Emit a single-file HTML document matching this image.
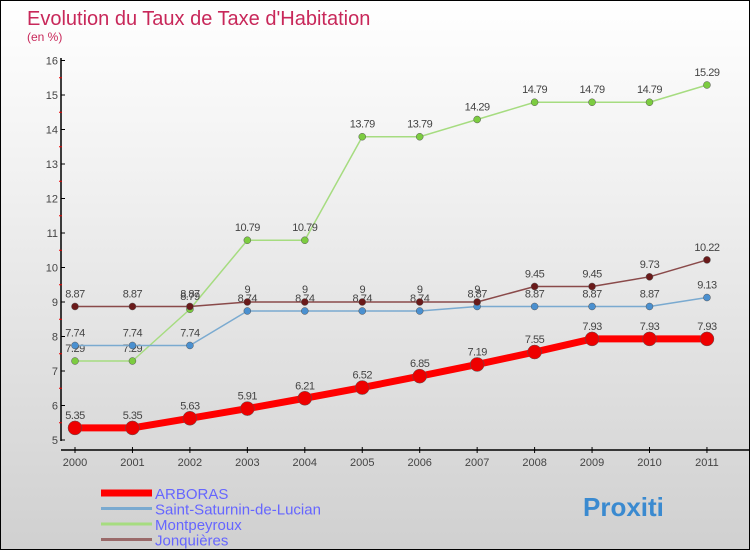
<!DOCTYPE html>
<html><head><meta charset="utf-8"><style>
body{margin:0}
#c{width:750px;height:550px;position:relative;box-sizing:border-box;border:1px solid #000;background:linear-gradient(#fff,#f2f2f2 30%,#d0d0d0);font-family:"Liberation Sans",sans-serif;overflow:hidden}
</style></head><body>
<div id="c">
<svg id="s" width="748" height="548" style="position:absolute;left:0;top:0">
<text x="26" y="24" font-size="20" fill="#c8285a">Evolution du Taux de Taxe d'Habitation</text>
<text x="26" y="40" font-size="12" fill="#c8285a">(en %)</text>
</svg>
</div>
<script>
const years=[2000,2001,2002,2003,2004,2005,2006,2007,2008,2009,2010,2011];
const arboras=[5.35,5.35,5.63,5.91,6.21,6.52,6.85,7.19,7.55,7.93,7.93,7.93];
const saint=[7.74,7.74,7.74,8.74,8.74,8.74,8.74,8.87,8.87,8.87,8.87,9.13];
const montp=[7.29,7.29,8.79,10.79,10.79,13.79,13.79,14.29,14.79,14.79,14.79,15.29];
const jonq=[8.87,8.87,8.87,9,9,9,9,9,9.45,9.45,9.73,10.22];
const yTicks=[5,6,7,8,9,10,11,12,13,14,15,16];
const svg=document.getElementById('s');const NS='http://www.w3.org/2000/svg';
const X=i=>74+i*57.45, Y=v=>439-(v-5)*34.5;
function mk(t,a,p){const e=document.createElementNS(NS,t);for(const k in a)e.setAttribute(k,a[k]);(p||svg).appendChild(e);return e;}
let ax=mk('line',{x1:60,y1:57,x2:60,y2:440,stroke:'#000','stroke-width':1.5});


let xa=mk('line',{x1:60,y1:449,x2:748,y2:449,stroke:'#000','stroke-width':1.5});


yTicks.forEach(v=>{mk('line',{x1:60,y1:Y(v),x2:64,y2:Y(v),stroke:'#000'});
 if(v<16)mk('line',{x1:58,y1:Y(v+0.5),x2:61,y2:Y(v+0.5),stroke:'#e00'});
 const t=mk('text',{x:57,y:Y(v)+4,'font-size':11,fill:'#444','text-anchor':'end'});t.textContent=v;
 
 });
years.forEach((y,i)=>{mk('line',{x1:X(i),y1:446,x2:X(i),y2:452,stroke:'#000'});
 const t=mk('text',{x:X(i),y:465,'font-size':11,fill:'#444','text-anchor':'middle'});t.textContent=y;
 
 });
function series(d,col,dot,w,r,name){
 const p=mk('polyline',{points:d.map((v,i)=>X(i)+','+Y(v)).join(' '),fill:'none',stroke:col,'stroke-width':w,'stroke-linejoin':'round'});
 
 
 d.forEach((v,i)=>{const c=mk('circle',{cx:X(i),cy:Y(v),r:r,fill:dot,stroke:'#555','stroke-width':0.5});
  
  
  const t=mk('text',{x:X(i),y:Y(v)-9,'font-size':11,fill:'#444','text-anchor':'middle','letter-spacing':'-0.5'});t.textContent=v.toFixed(2).replace(/0$/,'').replace(/\.$/,'').replace(/^(\d+)\.(\d)$/,(m,a,b)=>a+'.'+b);
  if(Number.isInteger(v))t.textContent=v;
  
  });
}
series(montp,'#a6dc80','#7ccc40',1.5,3.5,'montpeyroux');
series(saint,'#7aaad0','#4a90d0',1.5,3.5,'saint-saturnin');
series(jonq,'#8a4a4a','#6a1a1a',1.5,3.5,'jonquieres');
series(arboras,'#f00','#e00',7,7,'arboras');
const leg=[['ARBORAS','#f00',7],['Saint-Saturnin-de-Lucian','#7aaad0',3],['Montpeyroux','#a6dc80',3],['Jonquières','#9a6a6a',3]];
leg.forEach((l,i)=>{const y=492+i*15.5;
 const ln=mk('line',{x1:100,y1:y,x2:151,y2:y,stroke:l[1],'stroke-width':l[2]});
 
 
 const t=mk('text',{x:154,y:y+6,'font-size':15,fill:'#6666ff'});t.textContent=l[0];
 
 });
const lg=mk('text',{x:582,y:515,'font-size':26,'font-weight':'bold',fill:'#3a8ad0'});lg.textContent='Proxiti';


</script>
</body></html>
